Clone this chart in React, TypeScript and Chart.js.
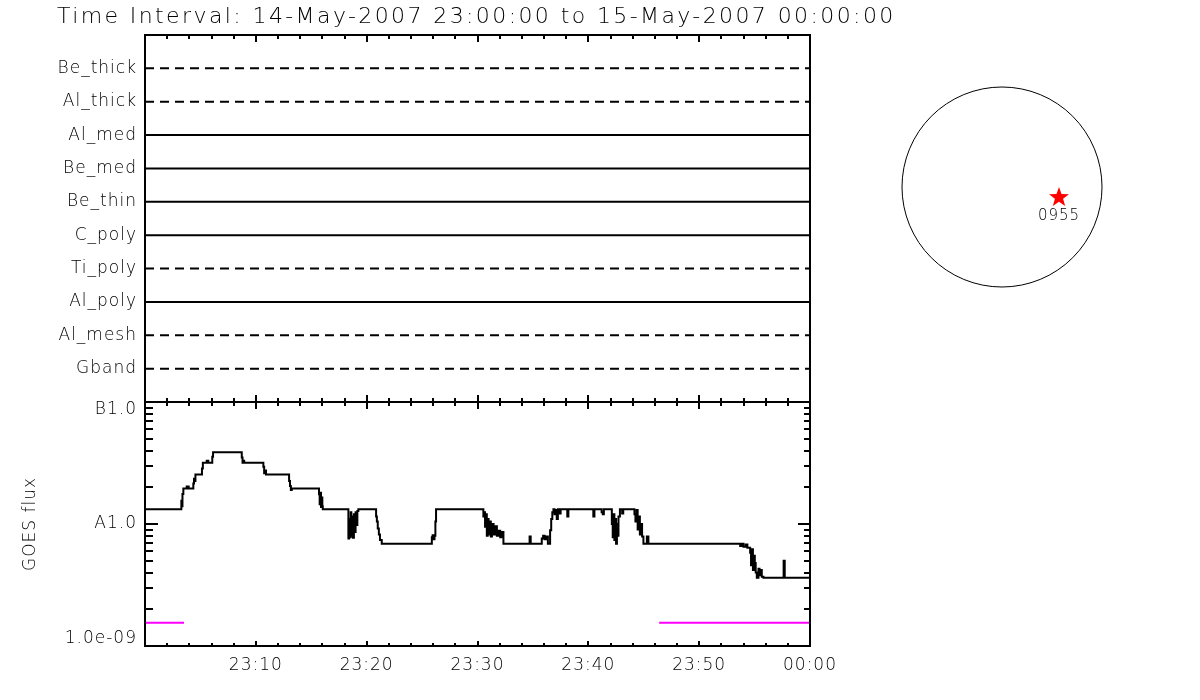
import React, { useEffect, useRef } from 'react';
import { Chart, registerables } from 'chart.js';

Chart.register(...registerables);

// ---------------- data ----------------
const titleText = 'Time Interval: 14-May-2007 23:00:00 to 15-May-2007 00:00:00';

const detectorLabels = ['Be_thick', 'Al_thick', 'Al_med', 'Be_med', 'Be_thin', 'C_poly', 'Ti_poly', 'Al_poly', 'Al_mesh', 'Gband'];
const detectorRows = [10, 9, 8, 7, 6, 5, 4, 3, 2, 1];
const detectorDashed = [true, true, false, false, false, false, true, false, true, true];

const timeLabelMinutes = [10, 20, 30, 40, 50, 60];
const timeLabels = ['23:10', '23:20', '23:30', '23:40', '23:50', '00:00'];
const timeMajorTicks = [0, 10, 20, 30, 40, 50, 60];
const timeMinorTicks = [2, 4, 6, 8, 12, 14, 16, 18, 22, 24, 26, 28, 32, 34, 36, 38, 42, 44, 46, 48, 52, 54, 56, 58];

const fluxTickValues = [1e-9, 1e-8, 1e-7];
// label lines: the empty line nudges the end labels inside the panel, as in the original
const fluxTickLabels: (string | string[])[] = [['1.0e-09', ''], 'A1.0', ['', 'B1.0']];
const fluxMinorTicks = [2e-9, 3e-9, 4e-9, 5e-9, 6e-9, 7e-9, 8e-9, 9e-9, 2e-8, 3e-8, 4e-8, 5e-8, 6e-8, 7e-8, 8e-8, 9e-8];

// GOES flux (minutes after 23:00, W/m^2); each value holds until the next time
const goesMinutes = [
  0, 3.28, 3.33, 3.38, 3.46, 3.76, 3.94, 4.36, 4.42, 4.48, 4.55,
  5.14, 5.22, 5.57, 5.71, 6.07, 6.14, 8.73, 8.8, 8.87, 8.95,
  10.68, 10.75, 10.82, 10.92, 13.0, 13.08, 13.16, 13.24,
  15.7, 15.76, 15.82, 15.88, 15.94, 16.0, 16.04,
  18.35, 18.42, 18.48, 18.56, 18.62, 18.7, 18.77, 18.85, 18.92, 19.0, 19.08, 19.16, 19.25,
  20.85, 20.92, 21.0, 21.1, 21.2, 21.36,
  25.88, 25.95, 26.05, 26.12, 26.2, 26.26,
  30.53, 30.6, 30.68, 30.76, 30.84, 30.92, 31.0, 31.1, 31.2, 31.3, 31.45, 31.6, 31.75, 31.9, 32.05, 32.2, 32.34,
  34.7, 34.8, 35.8, 35.92, 36.05, 36.2, 36.35,
  36.55, 36.65, 36.75, 36.85, 36.95, 37.05, 37.15, 37.25, 37.4, 37.5, 38.1, 38.2,
  40.45, 40.55, 41.2, 41.3, 41.4,
  42.12, 42.2, 42.28, 42.35, 42.42, 42.5, 42.58, 42.66, 42.72, 42.85, 43.05, 43.15,
  44.16, 44.25, 44.35, 44.45, 44.55, 44.65, 44.75, 44.85, 44.97, 45.28, 45.42,
  53.7, 53.85, 54.0, 54.2, 54.35, 54.6, 54.68, 54.76, 54.85, 54.93, 55.02, 55.1, 55.2,
  55.35, 55.45, 55.55, 55.65, 55.8, 57.62, 57.72, 60,
];
const goesFlux = [
  1.32e-8, 1.55e-8, 1.4e-8, 1.76e-8, 1.95e-8, 2.03e-8, 1.95e-8, 2.15e-8, 2.35e-8, 2.25e-8, 2.54e-8,
  2.85e-8, 3.18e-8, 3.3e-8, 3.18e-8, 3.55e-8, 3.87e-8, 3.5e-8, 3.18e-8, 3.3e-8, 3.18e-8,
  2.95e-8, 2.6e-8, 2.75e-8, 2.54e-8, 2.25e-8, 2.05e-8, 1.9e-8, 1.95e-8,
  1.75e-8, 1.45e-8, 1.8e-8, 1.38e-8, 1.65e-8, 1.4e-8, 1.32e-8,
  7.6e-9, 1.1e-8, 7.8e-9, 1.25e-8, 8.0e-9, 1.15e-8, 7.7e-9, 1.2e-8, 8.6e-9, 1.25e-8, 9.8e-9, 1.28e-8, 1.32e-8,
  1.15e-8, 1.05e-8, 9.2e-9, 8.2e-9, 7.4e-9, 6.9e-9,
  7.8e-9, 8.1e-9, 7.5e-9, 8.0e-9, 1.05e-8, 1.32e-8,
  1.15e-8, 1.25e-8, 9.5e-9, 1.2e-8, 8.0e-9, 1.1e-8, 8.2e-9, 1.05e-8, 7.9e-9, 1.0e-8, 8.2e-9, 9.6e-9, 8.0e-9, 8.8e-9, 7.8e-9, 8.6e-9, 6.9e-9,
  7.9e-9, 6.9e-9, 7.6e-9, 8.0e-9, 7.5e-9, 7.9e-9, 6.9e-9,
  8.9e-9, 1.1e-8, 1.25e-8, 1.32e-8, 1.2e-8, 1.3e-8, 1.1e-8, 1.32e-8, 1.22e-8, 1.32e-8, 1.15e-8, 1.32e-8,
  1.15e-8, 1.32e-8, 1.25e-8, 1.2e-8, 1.32e-8,
  1.0e-8, 7.8e-9, 1.2e-8, 7.4e-9, 1.1e-8, 6.9e-9, 1.0e-8, 8.0e-9, 1.15e-8, 1.32e-8, 1.22e-8, 1.32e-8,
  1.2e-8, 1.05e-8, 1.3e-8, 9.0e-9, 1.15e-8, 8.2e-9, 1.0e-8, 7.9e-9, 6.9e-9, 7.9e-9, 6.9e-9,
  6.6e-9, 6.9e-9, 6.5e-9, 6.8e-9, 6.4e-9, 5.8e-9, 4.6e-9, 6.2e-9, 4.2e-9, 5.5e-9, 4.8e-9, 4.0e-9, 3.63e-9,
  4.3e-9, 3.8e-9, 4.2e-9, 3.7e-9, 3.63e-9, 5.0e-9, 3.63e-9, 3.63e-9,
];

// background level (magenta) segments, null = gap
const backgroundMinutes = [0, 3.52, 3.52, 46.39, 60];
const backgroundFlux = [1.55e-9, 1.55e-9, null, 1.55e-9, 1.55e-9];

// flare location on the solar disk (disk radius = 1)
const flareX = [0.57];
const flareY = [-0.1];
const flareLabels = ['0955'];

// ---------------- layout / style ----------------
const W = 1200;
const H = 700;
const PLOT_LEFT = 145;
const PLOT_RIGHT = 810;
const TOP_Y = 35;
const SPLIT_Y = 402;
const BOTTOM_Y = 646;
const FONT = '"DejaVu Sans", sans-serif';
const WEIGHT = '200';
const SPACING = '1px';

type FrameSpec = {
  topMinor: number; topMajor: number; bottomMinor: number; bottomMajor: number; log?: boolean;
};

function drawFrame(chart: any, spec: FrameSpec) {
  const { ctx, chartArea: a, scales } = chart;
  const xs = scales.x;
  ctx.save();
  ctx.strokeStyle = '#000';
  ctx.lineWidth = 2;
  ctx.lineCap = 'butt';
  ctx.beginPath();
  ctx.rect(a.left, a.top, a.right - a.left, a.bottom - a.top);
  ctx.stroke();
  ctx.beginPath();
  const seg = (x1: number, y1: number, x2: number, y2: number) => { ctx.moveTo(x1, y1); ctx.lineTo(x2, y2); };
  timeMinorTicks.forEach((t) => {
    const px = Math.round(xs.getPixelForValue(t));
    seg(px, a.top, px, a.top + spec.topMinor);
    seg(px, a.bottom, px, a.bottom - spec.bottomMinor);
  });
  timeMajorTicks.forEach((t) => {
    const px = Math.round(xs.getPixelForValue(t));
    seg(px, a.top, px, a.top + spec.topMajor);
    seg(px, a.bottom, px, a.bottom - spec.bottomMajor);
  });
  if (spec.log) {
    const ys = scales.y;
    fluxMinorTicks.forEach((v) => {
      const py = Math.round(ys.getPixelForValue(v));
      seg(a.left, py, a.left + 8, py);
      seg(a.right, py, a.right - 6, py);
    });
    fluxTickValues.forEach((v) => {
      const py = Math.round(ys.getPixelForValue(v));
      seg(a.left, py, a.left + 13, py);
      seg(a.right, py, a.right - 12, py);
    });
  }
  ctx.stroke();
  ctx.restore();
}

const spacingPlugin = {
  id: 'letterSpacing',
  beforeDraw(chart: any) {
    (chart.ctx as any).letterSpacing = SPACING;
  },
};

export default function App() {
  const topRef = useRef<HTMLCanvasElement | null>(null);
  const goesRef = useRef<HTMLCanvasElement | null>(null);
  const diskRef = useRef<HTMLCanvasElement | null>(null);

  useEffect(() => {
    const charts: Chart[] = [];
    const labelFont = { family: FONT, size: 17, weight: WEIGHT };

    // ---------- top panel: detector states ----------
    const topChart = new Chart(topRef.current as HTMLCanvasElement, {
      type: 'line',
      data: {
        datasets: detectorLabels.map((label, i) => ({
          label,
          data: [{ x: 0, y: detectorRows[i] }, { x: 60, y: detectorRows[i] }],
          borderColor: '#000',
          borderWidth: 2,
          borderDash: detectorDashed[i] ? [9, 6] : [],
          pointRadius: 0,
        })),
      },
      options: {
        animation: false,
        responsive: false,
        devicePixelRatio: 1,
        events: [],
        layout: { autoPadding: false, padding: { left: 0, top: TOP_Y, right: W - PLOT_RIGHT, bottom: H - SPLIT_Y } },
        plugins: { legend: { display: false }, tooltip: { enabled: false }, title: { display: false } },
        scales: {
          x: { type: 'linear', min: 0, max: 60, display: false },
          y: {
            type: 'linear', min: 0, max: 11,
            grid: { display: false, drawTicks: false },
            border: { display: false },
            afterBuildTicks: (scale: any) => { scale.ticks = detectorRows.map((v) => ({ value: v })); },
            afterFit: (scale: any) => { scale.width = PLOT_LEFT; },
            ticks: {
              autoSkip: false,
              padding: 8,
              color: '#000',
              font: labelFont,
              callback: (value: any) => detectorLabels[detectorRows.indexOf(Number(value))] ?? '',
            },
          },
        },
      } as any,
      plugins: [
        spacingPlugin,
        {
          id: 'frameTop',
          afterDatasetsDraw(chart: any) {
            drawFrame(chart, { topMinor: 4, topMajor: 7, bottomMinor: 4, bottomMajor: 7 });
            const ctx = chart.ctx;
            ctx.save();
            ctx.fillStyle = '#000';
            ctx.font = `${WEIGHT} 22px ${FONT}`;
            (ctx as any).letterSpacing = '2.4px';
            ctx.textAlign = 'left';
            ctx.textBaseline = 'alphabetic';
            ctx.fillText(titleText, 57, 23);
            ctx.restore();
          },
        },
      ],
    });
    charts.push(topChart);

    // ---------- bottom panel: GOES flux ----------
    const goesChart = new Chart(goesRef.current as HTMLCanvasElement, {
      type: 'line',
      data: {
        datasets: [
          {
            label: 'GOES',
            data: goesMinutes.map((t, i) => ({ x: t, y: goesFlux[i] })),
            borderColor: '#000',
            borderWidth: 2,
            pointRadius: 0,
            stepped: true,
          },
          {
            label: 'background',
            data: backgroundMinutes.map((t, i) => ({ x: t, y: backgroundFlux[i] })),
            borderColor: '#ff00ff',
            borderWidth: 2,
            pointRadius: 0,
            spanGaps: false,
          },
        ],
      },
      options: {
        animation: false,
        responsive: false,
        devicePixelRatio: 1,
        events: [],
        layout: { autoPadding: false, padding: { left: 0, top: SPLIT_Y, right: W - PLOT_RIGHT, bottom: H - BOTTOM_Y - 40 } },
        plugins: { legend: { display: false }, tooltip: { enabled: false } },
        scales: {
          x: {
            type: 'linear', min: 0, max: 60,
            grid: { display: false, drawTicks: false },
            border: { display: false },
            afterBuildTicks: (scale: any) => { scale.ticks = timeLabelMinutes.map((v) => ({ value: v })); },
            afterFit: (scale: any) => { scale.height = 40; },
            ticks: {
              autoSkip: false,
              maxRotation: 0,
              padding: 9,
              color: '#000',
              font: labelFont,
              callback: (value: any) => timeLabels[timeLabelMinutes.indexOf(Number(value))] ?? '',
            },
          },
          y: {
            type: 'logarithmic', min: 1e-9, max: 1e-7,
            grid: { display: false, drawTicks: false },
            border: { display: false },
            afterBuildTicks: (scale: any) => { scale.ticks = fluxTickValues.map((v) => ({ value: v })); },
            afterFit: (scale: any) => { scale.width = PLOT_LEFT; },
            title: {
              display: true,
              text: 'GOES flux',
              color: '#000',
              font: labelFont,
              padding: { top: 20, bottom: 0 },
            },
            ticks: {
              autoSkip: false,
              padding: 8,
              color: '#000',
              font: { ...labelFont, lineHeight: 0.85 },
              callback: (value: any) => {
                const idx = fluxTickValues.findIndex((v) => Math.abs(Math.log10(v) - Math.log10(Number(value))) < 1e-6);
                return idx >= 0 ? fluxTickLabels[idx] : '';
              },
            },
          },
        },
      } as any,
      plugins: [
        spacingPlugin,
        {
          id: 'frameGoes',
          afterDatasetsDraw(chart: any) {
            drawFrame(chart, { topMinor: 4, topMajor: 7, bottomMinor: 3, bottomMajor: 5, log: true });
          },
        },
      ],
    });
    charts.push(goesChart);

    // ---------- solar disk with flare location ----------
    const star = document.createElement('canvas');
    star.width = 22;
    star.height = 22;
    const sctx = star.getContext('2d') as CanvasRenderingContext2D;
    sctx.fillStyle = '#ff0000';
    sctx.beginPath();
    for (let i = 0; i < 10; i++) {
      const r = i % 2 === 0 ? 10.5 : 4.3;
      const ang = -Math.PI / 2 + (i * Math.PI) / 5;
      const px = 11 + r * Math.cos(ang);
      const py = 11.5 + r * Math.sin(ang);
      if (i === 0) sctx.moveTo(px, py); else sctx.lineTo(px, py);
    }
    sctx.closePath();
    sctx.fill();

    const diskChart = new Chart(diskRef.current as HTMLCanvasElement, {
      type: 'scatter',
      data: {
        datasets: [
          {
            label: 'disk',
            data: [{ x: 0, y: 0 }],
            pointStyle: 'circle',
            pointRadius: 100,
            borderColor: '#000',
            borderWidth: 1,
            backgroundColor: 'rgba(0,0,0,0)',
            clip: false,
          },
          {
            label: 'flare',
            data: flareX.map((x, i) => ({ x, y: flareY[i] })),
            pointStyle: star,
            pointRadius: 11,
            clip: false,
          },
        ],
      },
      options: {
        animation: false,
        responsive: false,
        devicePixelRatio: 1,
        events: [],
        layout: { autoPadding: false, padding: { left: 882, top: 67, right: W - 1122, bottom: H - 307 } },
        plugins: { legend: { display: false }, tooltip: { enabled: false } },
        scales: {
          x: { type: 'linear', min: -1.2, max: 1.2, display: false },
          y: { type: 'linear', min: -1.2, max: 1.2, display: false },
        },
      } as any,
      plugins: [
        spacingPlugin,
        {
          id: 'flareLabels',
          afterDatasetsDraw(chart: any) {
            const meta = chart.getDatasetMeta(1);
            const ctx = chart.ctx;
            ctx.save();
            ctx.fillStyle = '#000';
            ctx.font = `${WEIGHT} 15px ${FONT}`;
            ctx.textAlign = 'center';
            ctx.textBaseline = 'middle';
            meta.data.forEach((pt: any, i: number) => {
              ctx.fillText(flareLabels[i], pt.x, pt.y + 19);
            });
            ctx.restore();
          },
        },
      ],
    });
    charts.push(diskChart);

    return () => { charts.forEach((c) => c.destroy()); };
  }, []);

  const canvasStyle: React.CSSProperties = { position: 'absolute', left: 0, top: 0, width: W, height: H };
  return (
    <div style={{ position: 'fixed', left: 0, top: 0, width: W, height: H, background: '#fff' }}>
      <canvas ref={topRef} width={W} height={H} style={canvasStyle} />
      <canvas ref={goesRef} width={W} height={H} style={canvasStyle} />
      <canvas ref={diskRef} width={W} height={H} style={canvasStyle} />
    </div>
  );
}
